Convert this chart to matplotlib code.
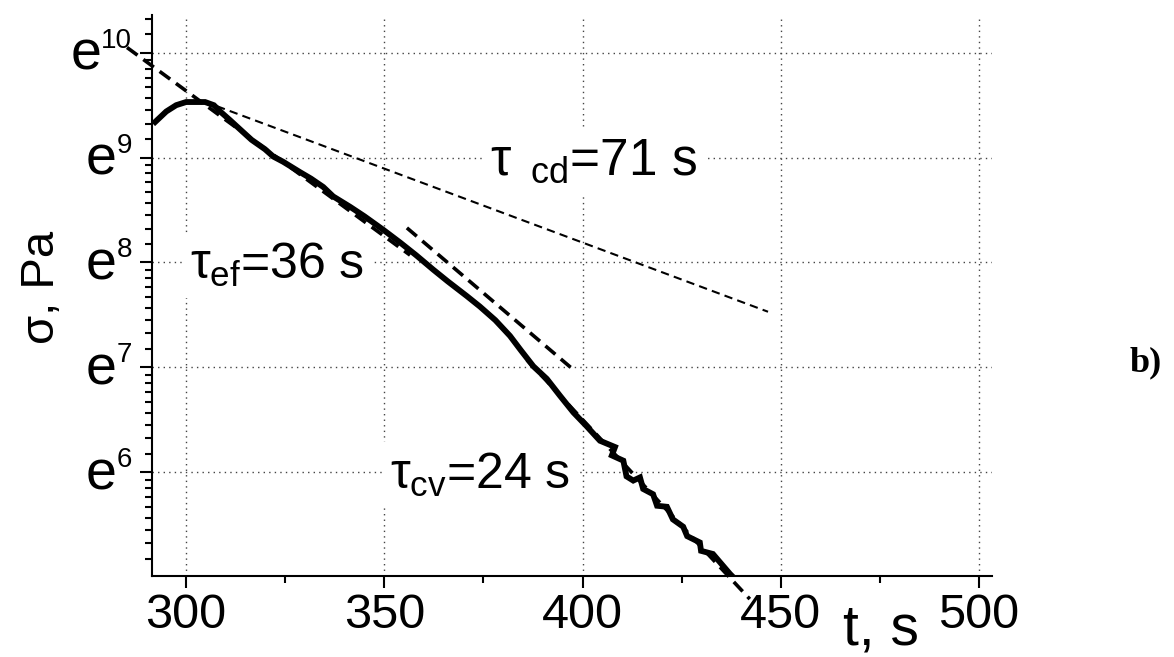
import numpy as np
import matplotlib
matplotlib.use("Agg")
import matplotlib.pyplot as plt
from matplotlib.ticker import FixedLocator, NullFormatter

plt.rcParams['font.family'] = ['Liberation Sans', 'DejaVu Sans']
plt.rcParams['mathtext.fontset'] = 'custom'
plt.rcParams['mathtext.rm'] = 'Liberation Sans'
plt.rcParams['mathtext.it'] = 'Liberation Sans'
plt.rcParams['mathtext.bf'] = 'Liberation Sans:bold'

# measured stress relaxation, time in s and ln(sigma / Pa)
t_data = [292.2, 295.0, 297.5, 300.0, 304.8, 307.0, 308.6, 311.0, 313.6, 316.5,
          319.9, 322.0, 324.5, 328.8, 331.5, 334.6, 337.1, 341.4, 345.0, 349.8,
          354.0, 358.0, 362.4, 366.0, 370.8, 374.1, 378.0, 381.7, 384.5, 387.6,
          391.0, 394.3, 397.7, 401.0, 404.4, 408.2, 407.4, 410.3, 411.1, 412.8,
          414.5, 415.3, 417.8, 418.8, 421.3, 422.8, 425.4, 426.4, 429.6, 429.9,
          432.9, 437.2, 438.5]
ln_sigma = [9.34, 9.44, 9.50, 9.53, 9.53, 9.50, 9.44, 9.36, 9.27, 9.17,
            9.08, 9.01, 8.96, 8.86, 8.80, 8.72, 8.63, 8.53, 8.44, 8.31,
            8.19, 8.07, 7.93, 7.82, 7.68, 7.58, 7.45, 7.30, 7.16, 7.01,
            6.89, 6.73, 6.57, 6.44, 6.30, 6.24, 6.16, 6.11, 5.96, 5.92,
            5.95, 5.84, 5.79, 5.68, 5.67, 5.55, 5.48, 5.39, 5.33, 5.25,
            5.22, 5.03, 4.98]

# exponential fits (end points, t and ln sigma)
fit_cd_t = [307.8, 446.8]
fit_cd_ln = [9.49, 7.53]
fit_ef_t = [285.1, 356.5]
fit_ef_ln = [10.05, 8.07]
fit_mid_t = [355.7, 397.0]
fit_mid_ln = [8.33, 7.00]
fit_cv_t = [386.0, 442.2]
fit_cv_ln = [7.07, 4.79]

x_ticks = [300, 350, 400, 450, 500]
y_powers = [6, 7, 8, 9, 10]

fig = plt.figure(figsize=(11.74, 6.57), dpi=100)
ax = fig.add_axes([152/1174, 1 - 576/657, (992 - 152)/1174, (576 - 15)/657])
ax.set_yscale('log', base=np.e)

ax.plot(t_data, np.exp(ln_sigma), color='black', lw=4.2, zorder=4,
        solid_joinstyle='miter')
ax.plot(fit_cd_t, np.exp(fit_cd_ln), color='black', lw=1.5, dashes=(4, 2.5), zorder=5)
ax.plot(fit_ef_t, np.exp(fit_ef_ln), color='black', lw=2.6, dashes=(3.6, 2), zorder=5,
        clip_on=False)
ax.plot(fit_mid_t, np.exp(fit_mid_ln), color='black', lw=2.6, dashes=(3.6, 2), zorder=5)
ax.plot(fit_cv_t, np.exp(fit_cv_ln), color='black', lw=2.6, dashes=(3.6, 2), zorder=5,
        clip_on=False)

ax.set_xlim(291.4, 503.3)
ax.set_ylim(np.exp(5.01), np.exp(10.36))

ax.set_xticks(x_ticks)
ax.set_xticklabels([str(v) for v in x_ticks])
ax.set_xticks([325, 375, 425, 475], minor=True)

ax.yaxis.set_major_locator(FixedLocator([np.exp(p) for p in y_powers]))
minors = []
for n in range(5, 11):
    lo, hi = np.exp(n), np.exp(n + 1)
    for k in range(1, 9):
        v = lo + k * (hi - lo) / 9
        if v < np.exp(10.36):
            minors.append(v)
ax.yaxis.set_minor_locator(FixedLocator(minors))
ax.yaxis.set_major_formatter(NullFormatter())
ax.yaxis.set_minor_formatter(NullFormatter())

ax.tick_params(axis='both', which='major', direction='out', length=8.6, width=1.5)
ax.tick_params(axis='both', which='minor', direction='out', length=5, width=1.5)
ax.tick_params(axis='x', which='major', labelsize=35, pad=4)

for side in ['top', 'right']:
    ax.spines[side].set_visible(False)
for side in ['left', 'bottom']:
    ax.spines[side].set_linewidth(1.5)

ax.grid(True, which='major', color='#444444', lw=1, linestyle=(0, (1, 3)))
ax.set_axisbelow(True)

# y tick labels as e^n
for p in y_powers:
    ax.annotate(str(p), xy=(0, np.exp(p)), xycoords=('axes fraction', 'data'),
                xytext=(-14.4, 3.6), textcoords='offset points',
                ha='right', va='baseline', fontsize=20, annotation_clip=False)
    ax.annotate('e', xy=(0, np.exp(p)), xycoords=('axes fraction', 'data'),
                xytext=(-14.4 - len(str(p)) * 11.1, -12.2), textcoords='offset points',
                ha='right', va='baseline', fontsize=40, annotation_clip=False)

box = dict(facecolor='white', edgecolor='none', pad=6)
ax.text(376.7, np.exp(8.84), r'$\tau_{\ \ cd}$=71 s', fontsize=37, va='baseline',
        bbox=box, zorder=3)
ax.text(301.0, np.exp(7.84), r'$\tau_{ef}$=36 s', fontsize=36, va='baseline',
        bbox=box, zorder=3)
ax.text(351.5, np.exp(5.84), r'$\tau_{cv}$=24 s', fontsize=36, va='baseline',
        bbox=box, zorder=3)

fig.text(42/1174, 1 - 287/657, 'σ, Pa', rotation=90, ha='center', va='center',
         fontsize=34)
fig.text(843/1174, 1 - 645/657, 't, s', ha='left', va='baseline', fontsize=41)
fig.text(1130/1174, 1 - 371/657, 'b)', ha='left', va='baseline', fontsize=26,
         family='Liberation Serif', weight='bold')

fig.savefig('out.png', dpi=100)
